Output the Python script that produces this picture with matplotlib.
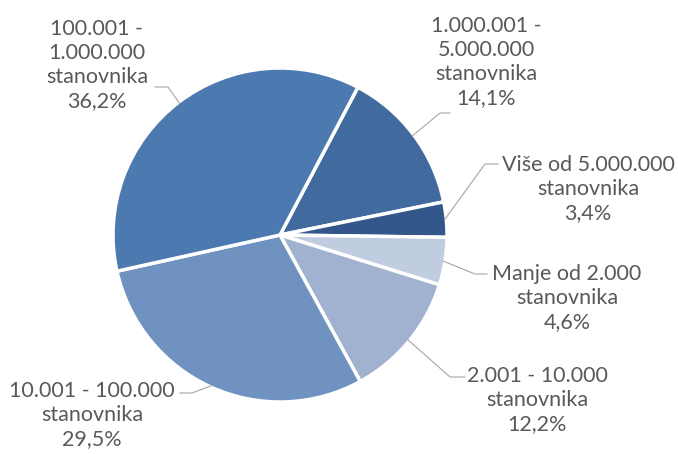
import numpy as np
import matplotlib.pyplot as plt

plt.rcParams['font.family'] = ['Lato', 'DejaVu Sans']

# podaci (redoslijed u smjeru kazaljke, pocevsi od 1.000.001 - 5.000.000)
labels = ['1.000.001 -\n5.000.000\nstanovnika',
          'Više od 5.000.000\nstanovnika',
          'Manje od 2.000\nstanovnika',
          '2.001 - 10.000\nstanovnika',
          '10.001 - 100.000\nstanovnika',
          '100.001 -\n1.000.000\nstanovnika']
shares = [14.1, 3.4, 4.6, 12.2, 29.5, 36.2]
colors = ['#416b9f', '#33578a', '#c0cce0', '#a0b2d0', '#7092c1', '#4c79b0']

# raspored natpisa (pikseli, y odozgo)
label_pos = [(486, 62), (588, 189), (567, 298), (537, 400), (92, 415), (97, 65)]
elbows = [(440, 113), (485, 164), (475, 274), (450, 377), (192, 393), (168, 87)]
line_ends = [(450, 113), (498, 164), (487, 274), (465, 377), (180, 393), (155, 87)]

W, H = 678, 454
cx, cy, r = 280, 235, 167

fig = plt.figure(figsize=(W / 100, H / 100), dpi=100)
ax = fig.add_axes([0, 0, 1, 1])
ax.set_xlim(0, W)
ax.set_ylim(0, H)
ax.axis('off')

start = 90 - 27.8
wedges, _ = ax.pie(shares, colors=colors, startangle=start, counterclock=False,
                   center=(cx, H - cy), radius=r,
                   wedgeprops=dict(edgecolor='white', linewidth=2.5))
ax.set_xlim(0, W)
ax.set_ylim(0, H)
ax.set_aspect('equal')

for w, lab, s, (tx, ty), (ex, ey), (lx, ly) in zip(wedges, labels, shares,
                                                   label_pos, elbows, line_ends):
    mid = np.deg2rad((w.theta1 + w.theta2) / 2)
    px = cx + 0.99 * r * np.cos(mid)
    py = (H - cy) + 0.99 * r * np.sin(mid)
    ax.plot([px, ex, lx], [py, H - ey, H - ly], color='#a6a6a6', lw=0.8)
    txt = lab + '\n' + ('%.1f' % s).replace('.', ',') + '%'
    ax.text(tx, H - ty, txt, ha='center', va='center', fontsize=15.5,
            color='#595959', linespacing=1.25)

plt.savefig('out.png', dpi=100)
